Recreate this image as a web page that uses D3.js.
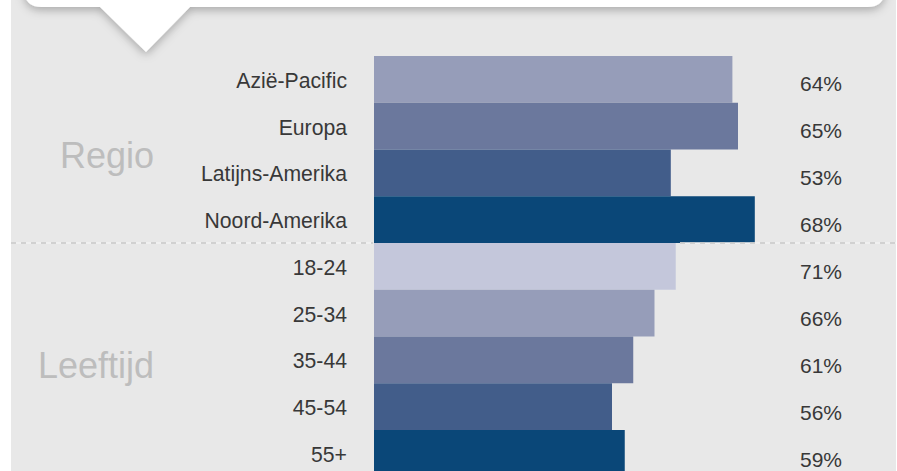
<!DOCTYPE html>
<html>
<head>
<meta charset="utf-8">
<script src="https://cdn.jsdelivr.net/npm/d3@7"></script>
<style>
  html, body { margin: 0; padding: 0; background: #ffffff; }
  svg { display: block; }
</style>
</head>
<body>
<svg id="chart" width="897" height="471"></svg>
<script>
// ---- data ----
const regionCategories = ["Azië-Pacific", "Europa", "Latijns-Amerika", "Noord-Amerika"];
const regionValues = [64, 65, 53, 68];
const ageCategories = ["18-24", "25-34", "35-44", "45-54", "55+"];
const ageValues = [71, 66, 61, 56, 59];
const groupLabels = ["Regio", "Leeftijd"];
const regionColors = ["#969db9", "#6b789d", "#425d8a", "#0a4778"];
const ageColors = ["#c4c7db", "#969db9", "#6b789d", "#425d8a", "#0a4778"];

const W = 897, H = 471;
const svg = d3.select("#chart");
const FONT = "'Liberation Sans', Arial, Helvetica, sans-serif";

// rows
const rows = regionCategories.map((c, i) => ({cat: c, v: regionValues[i], group: 0, color: regionColors[i]}))
  .concat(ageCategories.map((c, i) => ({cat: c, v: ageValues[i], group: 1, color: ageColors[i]})));

const y = d3.scaleBand().domain(rows.map(d => d.cat)).range([56, 476.75]).paddingInner(0).paddingOuter(0);
const xRegion = d3.scaleLinear().domain([0, 100]).range([374, 934]);
const xAge = d3.scaleLinear().domain([0, 100]).range([374, 799]);
const xFor = d => d.group === 0 ? xRegion : xAge;

// defs: shadow
const defs = svg.append("defs");
const f = defs.append("filter").attr("id", "shadow").attr("x", "-10%").attr("y", "-50%").attr("width", "120%").attr("height", "300%");
f.append("feDropShadow").attr("dx", 0).attr("dy", 3).attr("stdDeviation", 5)
  .attr("flood-color", "#000").attr("flood-opacity", 0.28);

// background panel
svg.append("rect").attr("x", 11).attr("y", 0).attr("width", 885).attr("height", H).attr("fill", "#e8e8e8");

// speech box with pointer
const bx0 = 24, bx1 = 885, by1 = 7, r = 18;
const boxPath = [
  `M${bx0},-40`,
  `L${bx1},-40`,
  `L${bx1},${by1 - r}`,
  `Q${bx1},${by1} ${bx1 - r},${by1}`,
  `L190,${by1}`,
  `L146,52`,
  `L100,${by1}`,
  `L${bx0 + r},${by1}`,
  `Q${bx0},${by1} ${bx0},${by1 - r}`,
  `Z`
].join(" ");
svg.append("path").attr("d", boxPath).attr("fill", "#ffffff").attr("filter", "url(#shadow)");

// bars
svg.append("g").selectAll("rect").data(rows).join("rect")
  .attr("x", d => xFor(d)(0))
  .attr("y", d => y(d.cat))
  .attr("width", d => xFor(d)(d.v) - xFor(d)(0))
  .attr("height", y.bandwidth())
  .attr("fill", d => d.color);

// separator dashed line
const sepY = y(ageCategories[0]);
[[11, 373], [680, 896]].forEach(([a, b]) => {
  svg.append("line").attr("x1", a).attr("x2", b).attr("y1", sepY).attr("y2", sepY)
    .attr("stroke", "#f3f3f3").attr("stroke-width", 1.5);
  svg.append("line").attr("x1", a).attr("x2", b).attr("y1", sepY).attr("y2", sepY)
    .attr("stroke", "#c6c6c6").attr("stroke-width", 1.5).attr("stroke-dasharray", "5,5");
});

// category labels
svg.append("g").selectAll("text").data(rows).join("text")
  .attr("x", 347)
  .attr("y", d => y(d.cat) + y.bandwidth() / 2 + 8.5)
  .attr("text-anchor", "end")
  .attr("font-family", FONT).attr("font-size", 21.2)
  .attr("fill", "#383838")
  .text(d => d.cat);

// value labels
svg.append("g").selectAll("text").data(rows).join("text")
  .attr("x", 800)
  .attr("y", (d, i) => y(d.cat) + y.bandwidth() / 2 + 11.7 + i * 0.25)
  .attr("text-anchor", "start")
  .attr("font-family", FONT).attr("font-size", 21)
  .attr("fill", "#383838")
  .text(d => d.v + "%");

// group labels
const groups = [regionCategories, ageCategories];
svg.append("g").selectAll("text").data(groupLabels).join("text")
  .attr("x", 154)
  .attr("y", (d, i) => {
    const cats = groups[i];
    const top = y(cats[0]), bot = y(cats[cats.length - 1]) + y.bandwidth();
    return (top + bot) / 2 + 18.5;
  })
  .attr("text-anchor", "end")
  .attr("font-family", FONT).attr("font-size", 36)
  .attr("fill", "#bdbdbd")
  .text(d => d);
</script>
</body>
</html>
